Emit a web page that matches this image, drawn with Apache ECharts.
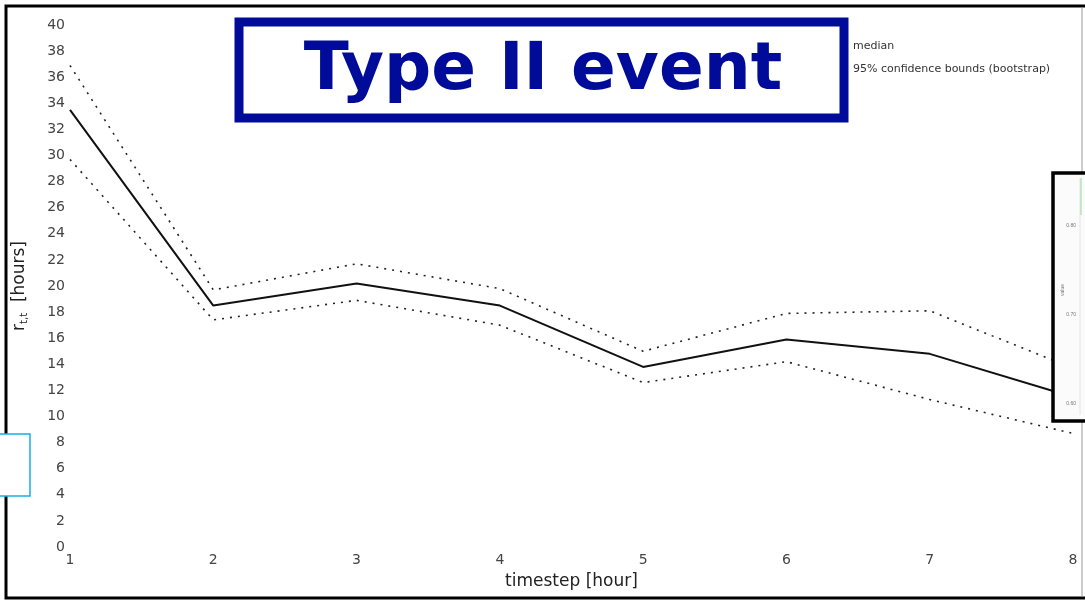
<!DOCTYPE html>
<html>
<head>
<meta charset="utf-8">
<script src="https://cdn.jsdelivr.net/npm/echarts@6/dist/echarts.min.js"></script>
<style>
  html, body { margin: 0; padding: 0; background: #fff; }
  #chart { width: 1085px; height: 606px; }
</style>
</head>
<body>
<div id="chart"></div>
<script>
// Time steps (hours) and response-time estimates
const timesteps = [1, 2, 3, 4, 5, 6, 7, 8];
const medianHours = [33.5, 18.5, 20.2, 18.5, 13.8, 15.9, 14.8, 11.5];
const upperBound = [36.9, 19.7, 21.7, 19.8, 15.0, 17.9, 18.1, 13.7];
const lowerBound = [29.7, 17.4, 18.9, 17.0, 12.6, 14.2, 11.3, 8.7];
const yTicks = [0, 2, 4, 6, 8, 10, 12, 14, 16, 18, 20, 22, 24, 26, 28, 30, 32, 34, 36, 38, 40];

const medianName = 'median';
const boundName = '95% confidence bounds (bootstrap)';

const pairs = arr => timesteps.map((t, i) => [t, arr[i]]);

const chart = echarts.init(document.getElementById('chart'));
const textFont = 'DejaVu Sans';

chart.setOption({
  animation: false,
  backgroundColor: '#fff',
  grid: { left: 70, right: 12, top: 25, bottom: 59, containLabel: false, outerBoundsMode: 'none' },
  legend: {
    data: [medianName, boundName],
    orient: 'vertical',
    left: 814,
    top: 36,
    itemGap: 12,
    itemWidth: 28,
    itemHeight: 4,
    textStyle: { fontFamily: textFont, fontSize: 11, color: '#333' }
  },
  xAxis: {
    type: 'value',
    min: 1, max: 8, interval: 1,
    name: 'timestep [hour]',
    nameLocation: 'middle',
    nameGap: 26,
    nameTextStyle: { fontFamily: textFont, fontSize: 17, color: '#222' },
    axisLine: { show: false },
    axisTick: { show: false },
    splitLine: { show: false },
    axisLabel: { fontFamily: textFont, fontSize: 14, color: '#444', margin: 6 }
  },
  yAxis: {
    type: 'value',
    min: 0, max: 40, interval: 2,
    name: '{v|r}{s|t,t}  [hours]',
    nameLocation: 'middle',
    nameGap: 41,
    nameRotate: 90,
    nameTextStyle: {
      fontFamily: textFont, fontSize: 17, color: '#222',
      rich: {
        v: { fontFamily: textFont, fontSize: 17, color: '#222' },
        s: { fontFamily: textFont, fontSize: 10, color: '#222', verticalAlign: 'bottom', padding: [8, 0, 0, 0] }
      }
    },
    axisLine: { show: false },
    axisTick: { show: false },
    splitLine: { show: false },
    axisLabel: {
      fontFamily: textFont, fontSize: 14, color: '#444', margin: 5,
      formatter: v => (yTicks.indexOf(v) >= 0 ? String(v) : '')
    }
  },
  series: [
    {
      name: medianName,
      type: 'line',
      data: pairs(medianHours),
      symbol: 'none',
      lineStyle: { color: '#111', width: 2 },
      z: 3
    },
    {
      name: boundName,
      type: 'line',
      data: pairs(upperBound),
      symbol: 'none',
      lineStyle: { color: '#222', width: 1.6, type: [2, 6] },
      itemStyle: { color: '#222' }
    },
    {
      name: boundName,
      type: 'line',
      data: pairs(lowerBound),
      symbol: 'none',
      lineStyle: { color: '#222', width: 1.6, type: [2, 6] },
      itemStyle: { color: '#222' }
    }
  ],
  graphic: [
    // outer frame
    { type: 'rect', shape: { x: 6, y: 6, width: 1100, height: 592 },
      style: { fill: 'none', stroke: '#000', lineWidth: 3 }, z: 50 },
    { type: 'line', shape: { x1: 1082, y1: 7, x2: 1082, y2: 597 },
      style: { stroke: '#999', lineWidth: 1 }, z: 50 },
    // title panel
    { type: 'rect', shape: { x: 239, y: 22, width: 605, height: 96 },
      style: { fill: '#fff', stroke: '#000c99', lineWidth: 9 }, z: 60 },
    { type: 'text', z: 61,
      style: { text: 'Type II event', x: 543, y: 72, align: 'center', verticalAlign: 'middle',
               fontFamily: 'DejaVu Sans', fontWeight: 'bold', fontSize: 66, fill: '#000c99' } },
    // inset panel on the right edge
    { type: 'rect', shape: { x: 1053, y: 173, width: 60, height: 248 },
      style: { fill: '#fbfbfb', stroke: '#000', lineWidth: 3.5 }, z: 60 },
    { type: 'line', shape: { x1: 1080, y1: 178, x2: 1080, y2: 415 },
      style: { stroke: '#dfe8df', lineWidth: 1 }, z: 61 },
    { type: 'line', shape: { x1: 1081, y1: 178, x2: 1081, y2: 215 },
      style: { stroke: '#b8e0b8', lineWidth: 1.5 }, z: 61 },
    { type: 'text', z: 61, style: { text: '0.80', x: 1076, y: 226, align: 'right', verticalAlign: 'middle',
      fontFamily: 'Liberation Sans', fontSize: 5, fill: '#777' } },
    { type: 'text', z: 61, style: { text: '0.70', x: 1076, y: 315, align: 'right', verticalAlign: 'middle',
      fontFamily: 'Liberation Sans', fontSize: 5, fill: '#777' } },
    { type: 'text', z: 61, style: { text: '0.60', x: 1076, y: 404, align: 'right', verticalAlign: 'middle',
      fontFamily: 'Liberation Sans', fontSize: 5, fill: '#777' } },
    { type: 'text', z: 61, rotation: Math.PI / 2, x: 1063, y: 290,
      style: { text: 'value', align: 'center', verticalAlign: 'middle',
      fontFamily: 'Liberation Sans', fontSize: 5, fill: '#777' } },
    // small panel on the left edge
    { type: 'rect', shape: { x: -5, y: 434, width: 35, height: 62 },
      style: { fill: '#fff', stroke: '#1aaee6', lineWidth: 1.5 }, z: 60 }
  ]
});
</script>
</body>
</html>
